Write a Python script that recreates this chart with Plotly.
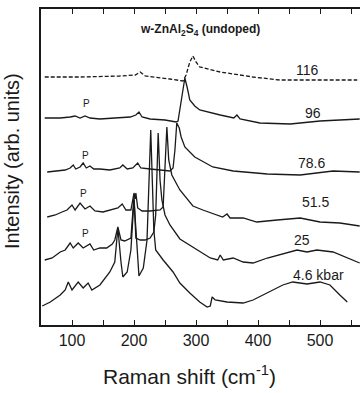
import plotly.graph_objects as go

# ---- data (Raman shift in cm^-1, intensity in arb. units incl. vertical offsets) ----
x_116 = [56, 113, 177, 202, 210, 218, 258, 279, 284, 290, 295, 300, 306, 339, 392, 435, 500, 560]
y_116 = [248, 248, 249, 250, 253, 249, 246, 244, 250, 263, 269, 263, 258, 253, 248, 245, 245, 245]

x_96 = [56, 81, 97, 105, 113, 121, 129, 145, 169, 194, 203, 208, 213, 226, 250, 268, 271, 276, 282,
        286, 290, 298, 306, 339, 361, 366, 371, 403, 452, 500, 564]
y_96 = [207, 207, 208, 209, 207, 209, 207, 206, 207, 208, 210, 213, 208, 206, 205, 203, 204, 225, 247,
        237, 225, 219, 215, 210, 207, 210, 206, 202, 201, 204, 206]

x_786 = [60, 73, 89, 97, 102, 106, 113, 118, 123, 129, 135, 145, 161, 177, 182, 189, 198, 206, 211,
         226, 242, 258, 263, 266, 269, 273, 276, 282, 298, 327, 360, 415, 468, 521, 564]
y_786 = [153, 154, 155, 157, 160, 156, 158, 162, 157, 159, 156, 156, 155, 157, 160, 156, 157, 162, 157,
         156, 155, 154, 157, 175, 202, 197, 188, 178, 168, 158, 154, 151, 150, 154, 153]

x_515 = [60, 73, 84, 92, 100, 105, 113, 121, 129, 137, 150, 161, 174, 181, 187, 195, 198, 200, 202,
         203, 206, 213, 226, 242, 247, 250, 253, 256, 261, 274, 295, 311, 343, 350, 355, 376, 398,
         431, 468, 500, 532, 564]
y_515 = [108, 110, 113, 115, 120, 115, 122, 116, 119, 114, 113, 115, 117, 121, 115, 115, 125, 132, 126,
         132, 117, 114, 114, 115, 118, 155, 198, 165, 150, 135, 119, 115, 108, 111, 107, 107, 103,
         105, 107, 103, 102, 99]

x_25 = [56, 68, 81, 89, 97, 102, 110, 118, 129, 135, 145, 156, 165, 169, 174, 179, 185, 195, 200,
        203, 210, 218, 226, 232, 235, 239, 242, 245, 250, 258, 274, 295, 323, 335, 339, 344, 360,
        376, 392, 415, 447, 463, 479, 495, 521, 544, 564]
y_25 = [65, 67, 73, 75, 82, 77, 82, 77, 81, 75, 77, 77, 81, 85, 98, 85, 84, 87, 129,
        87, 85, 85, 87, 93, 110, 192, 145, 125, 110, 100, 86, 78, 67, 65, 70, 65, 67,
        63, 62, 67, 72, 75, 73, 75, 73, 67, 62]

x_46 = [52, 65, 81, 89, 94, 100, 110, 118, 126, 132, 145, 161, 169, 174, 179, 182, 189, 195, 200,
        205, 208, 215, 221, 227, 232, 235, 247, 263, 274, 290, 306, 318, 323, 326, 331, 350, 376,
        392, 419, 440, 456, 479, 500, 516, 532, 544]
y_46 = [19, 23, 30, 35, 43, 35, 43, 37, 42, 35, 40, 53, 63, 97, 63, 48, 53, 75, 125,
        75, 49, 57, 85, 195, 95, 75, 65, 53, 42, 32, 23, 18, 19, 28, 25, 23, 22,
        25, 33, 40, 43, 41, 43, 40, 30, 23]

pressure_labels = ["116", "96", "78.6", "51.5", "25", "4.6 kbar"]
x_tick_vals = [100, 200, 300, 400, 500]
x_tick_text = ["100", "200", "300", "400", "500"]

FONT = "Liberation Sans, Arial, Helvetica, sans-serif"
INK = "#1a1a1a"

fig = go.Figure()
series = [(x_116, y_116, "dash"), (x_96, y_96, "solid"), (x_786, y_786, "solid"),
          (x_515, y_515, "solid"), (x_25, y_25, "solid"), (x_46, y_46, "solid")]
for (xs, ys, dash), name in zip(series, pressure_labels):
    fig.add_trace(go.Scatter(x=xs, y=ys, mode="lines", name=name,
                             line=dict(color=INK, width=1.3, dash="solid" if dash == "solid" else "4px,2px"),
                             showlegend=False, hoverinfo="skip"))

# pressure labels
label_pos = [(480, 255), (488, 212), (487, 162), (492, 123), (471, 85), (497, 50)]
for txt, (lx, ly) in zip(pressure_labels, label_pos):
    fig.add_annotation(x=lx, y=ly, text=txt, showarrow=False, xanchor="center", yanchor="middle",
                       font=dict(family=FONT, size=14, color=INK))

# "P" markers
for px_, py_ in [(124, 222), (121, 170), (118, 132), (121, 92)]:
    fig.add_annotation(x=px_, y=py_, text="P", showarrow=False, xanchor="center", yanchor="middle",
                       font=dict(family=FONT, size=10, color=INK))

# title and axis titles
fig.add_annotation(xref="paper", yref="paper", x=0.498, y=0.934, xanchor="center", yanchor="middle",
                   text="<b>w-ZnAl<sub>2</sub>S<sub>4</sub> (undoped)</b>", showarrow=False,
                   font=dict(family=FONT, size=12, color=INK))
fig.add_annotation(xref="paper", yref="paper", x=-0.091, y=0.519, textangle=-90,
                   xanchor="center", yanchor="middle",
                   text="Intensity (arb. units)", showarrow=False,
                   font=dict(family=FONT, size=20, color=INK))
fig.add_annotation(xref="paper", yref="paper", x=0.467, y=-0.158, xanchor="center", yanchor="middle",
                   text="Raman shift (cm<sup>-1</sup>)", showarrow=False,
                   font=dict(family=FONT, size=21, color=INK))

fig.update_layout(
    width=360, height=393,
    margin=dict(l=41, r=0, t=9, b=68),
    paper_bgcolor="white", plot_bgcolor="white",
    xaxis=dict(range=[50, 564.5], showline=True, linewidth=1.5, linecolor=INK, mirror="ticks",
               ticks="inside", ticklen=5, tickwidth=1.2, tickcolor=INK,
               tickvals=x_tick_vals, ticktext=x_tick_text, showgrid=False, zeroline=False,
               minor=dict(tick0=0, dtick=50, ticks="inside", ticklen=5, tickwidth=1.2,
                          tickcolor=INK, showgrid=False),
               tickfont=dict(family=FONT, size=16, color=INK)),
    yaxis=dict(range=[0, 316], showline=True, linewidth=1.5, linecolor=INK, ticks="",
               showticklabels=False, showgrid=False, zeroline=False),
)

fig.write_html("out.html")
